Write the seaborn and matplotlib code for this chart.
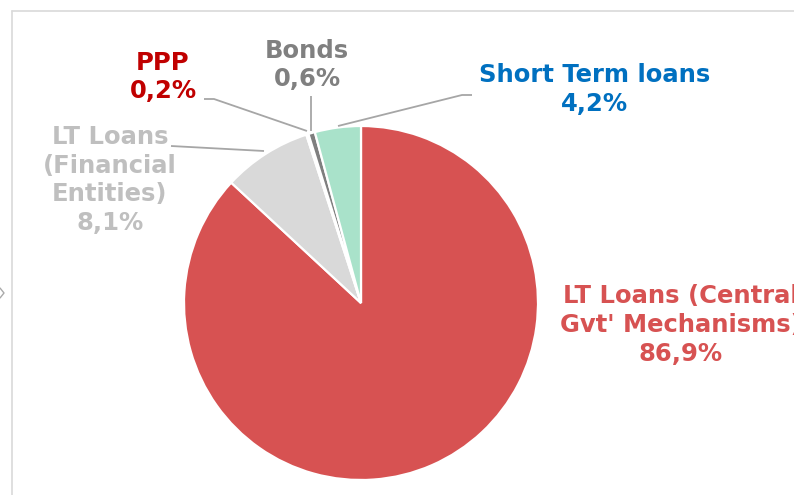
import matplotlib
matplotlib.use("Agg")
import matplotlib.pyplot as plt
import seaborn as sns

sns.set_theme(style="white")
plt.rcParams['font.family'] = ['DejaVu Sans']

# Data
categories = ["LT Loans (Central\nGvt' Mechanisms)", "LT Loans\n(Financial\nEntities)", "PPP", "Bonds", "Short Term loans"]
shares = [86.9, 8.1, 0.2, 0.6, 4.2]
pct_labels = ["86,9%", "8,1%", "0,2%", "0,6%", "4,2%"]

slice_colors = ["#D75252", "#D9D9D9", "#C00000", "#7F7F7F", "#A9E2CA"]
label_colors = ["#D75252", "#BFBFBF", "#C00000", "#808080", "#0070C0"]

W, H = 794, 495
fig = plt.figure(figsize=(W / 100, H / 100), dpi=100)
ax = fig.add_axes([0, 0, 1, 1])

def Y(py):
    return H - py

cx, cy, r = 361, 303, 177
ax.pie(shares, colors=slice_colors, startangle=90, counterclock=False,
       center=(cx, Y(cy)), radius=r, frame=True,
       wedgeprops=dict(edgecolor="white", linewidth=1.6))
ax.set_xlim(0, W)
ax.set_ylim(0, H)
ax.set_aspect("equal")
ax.axis("off")

# label placement (pixel coords from top)
label_pos = [(681, 325), (110, 180), (163, 77), (307, 65), (595, 89.5)]
for cat, pct, col, (lx, ly) in zip(categories, pct_labels, label_colors, label_pos):
    ax.text(lx, Y(ly), f"{cat}\n{pct}", color=col, fontsize=17.5, fontweight="bold",
            ha="center", va="center", linespacing=1.26, clip_on=False)

# leader lines
leader = "#A6A6A6"
lines = [
    [(171, 146), (264, 151)],
    [(204, 99), (214, 99), (307, 131)],
    [(311, 96), (311, 131)],
    [(472, 95), (462, 95), (338, 126)],
]
for pts in lines:
    xs = [p[0] for p in pts]
    ys = [Y(p[1]) for p in pts]
    ax.plot(xs, ys, color=leader, lw=1.3, solid_capstyle="butt")

# frame
ax.plot([12, W], [Y(11), Y(11)], color="#D9D9D9", lw=1.2, clip_on=False)
ax.plot([12, 12], [Y(11), 0], color="#D9D9D9", lw=1.2, clip_on=False)
ax.plot([0, 4, 0], [Y(288), Y(293), Y(298)], color="#AAAAAA", lw=1.0)

fig.savefig("out.png", dpi=100)
